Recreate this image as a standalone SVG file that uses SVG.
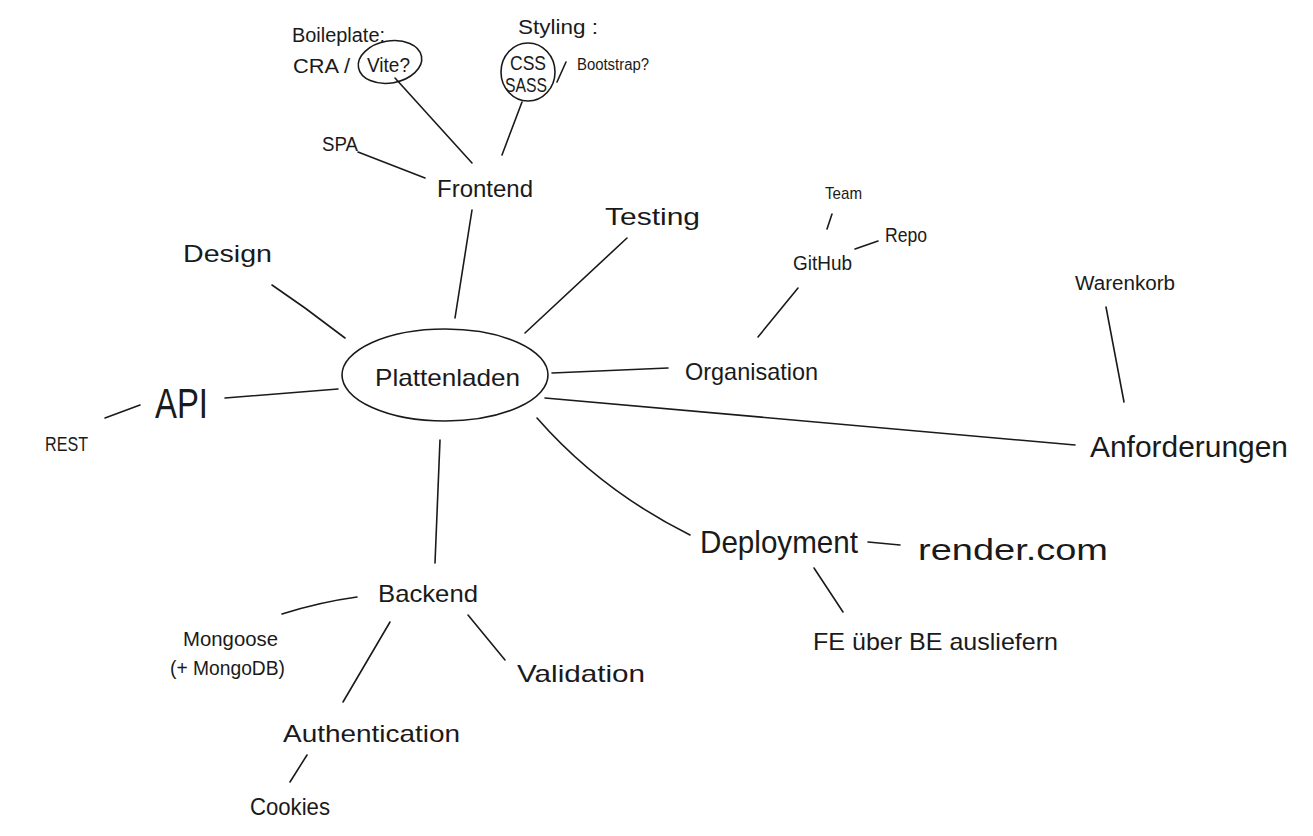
<svg xmlns="http://www.w3.org/2000/svg" width="1313" height="836" viewBox="0 0 1313 836">
<style>
text{font-family:"Liberation Sans","DejaVu Sans",sans-serif;fill:#1a1a1a;}
.s{font-size:20px}
.m{font-size:24px}
.l{font-size:28px}
.c line,.c path{stroke:#1a1a1a;stroke-width:1.6;fill:none;stroke-linecap:round}
.o{stroke:#1a1a1a;stroke-width:1.6;fill:none}
</style>
<rect width="1313" height="836" fill="#fff"/>
<g id="connectors" class="c">
<line x1="395" y1="78" x2="472" y2="163"/>
<line x1="522" y1="102" x2="502" y2="155"/>
<line x1="557" y1="82" x2="566" y2="62"/>
<line x1="358" y1="152" x2="425" y2="178"/>
<line x1="472" y1="210" x2="455" y2="318"/>
<line x1="627" y1="238" x2="525" y2="333"/>
<path d="M272 285 L305 308 L345 338"/>
<line x1="225" y1="398" x2="338" y2="389"/>
<line x1="105" y1="418" x2="140" y2="405"/>
<line x1="552" y1="373" x2="668" y2="368"/>
<line x1="832" y1="214" x2="827" y2="229"/>
<line x1="855" y1="249" x2="878" y2="241"/>
<line x1="798" y1="288" x2="758" y2="337"/>
<line x1="1106" y1="307" x2="1124" y2="402"/>
<path d="M545 398 Q800 420 1075 445"/>
<path d="M537 418 Q600 490 690 535"/>
<line x1="868" y1="542" x2="900" y2="545"/>
<line x1="814" y1="568" x2="843" y2="612"/>
<line x1="440" y1="440" x2="435" y2="563"/>
<path d="M282 614 Q320 602 357 597"/>
<line x1="390" y1="622" x2="343" y2="702"/>
<line x1="468" y1="615" x2="505" y2="660"/>
<line x1="307" y1="755" x2="290" y2="782"/>
</g>
<g id="plattenladen">
<ellipse class="o" cx="445" cy="375" rx="103" ry="46"/>
<text class="m" x="375" y="386" textLength="145" lengthAdjust="spacingAndGlyphs">Plattenladen</text>
</g>
<g id="frontend"><text class="m" x="437" y="197" textLength="96" lengthAdjust="spacingAndGlyphs">Frontend</text></g>
<g id="boilerplate">
<text class="s" x="292" y="42" textLength="93" lengthAdjust="spacingAndGlyphs">Boileplate:</text>
<text class="s" x="293" y="73" textLength="57" lengthAdjust="spacingAndGlyphs">CRA /</text>
<ellipse class="o" cx="390" cy="62" rx="32" ry="21" transform="rotate(-10 390 62)"/>
<text class="s" x="367" y="72" textLength="43" lengthAdjust="spacingAndGlyphs">Vite?</text>
</g>
<g id="styling">
<text class="s" x="518" y="34" textLength="80" lengthAdjust="spacingAndGlyphs">Styling :</text>
<ellipse class="o" cx="528" cy="72" rx="27" ry="29"/>
<text class="s" x="510" y="70" textLength="36" lengthAdjust="spacingAndGlyphs">CSS</text>
<text class="s" x="505" y="92" textLength="42" lengthAdjust="spacingAndGlyphs">SASS</text>
<text x="577" y="70" style="font-size:16px" textLength="72" lengthAdjust="spacingAndGlyphs">Bootstrap?</text>
</g>
<g id="spa"><text class="s" x="322" y="151" textLength="36" lengthAdjust="spacingAndGlyphs">SPA</text></g>
<g id="testing"><text class="m" x="605" y="225" textLength="95" lengthAdjust="spacingAndGlyphs">Testing</text></g>
<g id="design"><text class="m" x="183" y="262" textLength="89" lengthAdjust="spacingAndGlyphs">Design</text></g>
<g id="api"><text x="155" y="418" style="font-size:42px" textLength="53" lengthAdjust="spacingAndGlyphs">API</text></g>
<g id="rest"><text class="s" x="45" y="451" textLength="43" lengthAdjust="spacingAndGlyphs">REST</text></g>
<g id="organisation"><text class="m" x="685" y="380" textLength="133" lengthAdjust="spacingAndGlyphs">Organisation</text></g>
<g id="github"><text class="s" x="793" y="270" textLength="59" lengthAdjust="spacingAndGlyphs">GitHub</text></g>
<g id="team"><text x="825" y="199" style="font-size:17px" textLength="37" lengthAdjust="spacingAndGlyphs">Team</text></g>
<g id="repo"><text class="s" x="885" y="242" textLength="42" lengthAdjust="spacingAndGlyphs">Repo</text></g>
<g id="warenkorb"><text class="s" x="1075" y="290" textLength="100" lengthAdjust="spacingAndGlyphs">Warenkorb</text></g>
<g id="anforderungen"><text x="1090" y="457" style="font-size:30px" textLength="198" lengthAdjust="spacingAndGlyphs">Anforderungen</text></g>
<g id="deployment"><text x="700" y="553" style="font-size:32px" textLength="158" lengthAdjust="spacingAndGlyphs">Deployment</text></g>
<g id="render"><text x="918" y="560" style="font-size:30px" textLength="190" lengthAdjust="spacingAndGlyphs">render.com</text></g>
<g id="fe-ueber-be"><text class="m" x="813" y="650" textLength="245" lengthAdjust="spacingAndGlyphs">FE über BE ausliefern</text></g>
<g id="backend"><text class="m" x="378" y="602" textLength="100" lengthAdjust="spacingAndGlyphs">Backend</text></g>
<g id="mongoose">
<text class="s" x="183" y="646" textLength="95" lengthAdjust="spacingAndGlyphs">Mongoose</text>
<text class="s" x="170" y="675" textLength="115" lengthAdjust="spacingAndGlyphs">(+ MongoDB)</text>
</g>
<g id="validation"><text class="m" x="517" y="682" textLength="128" lengthAdjust="spacingAndGlyphs">Validation</text></g>
<g id="authentication"><text class="m" x="283" y="742" textLength="177" lengthAdjust="spacingAndGlyphs">Authentication</text></g>
<g id="cookies"><text class="m" x="250" y="815" textLength="80" lengthAdjust="spacingAndGlyphs">Cookies</text></g>
</svg>
